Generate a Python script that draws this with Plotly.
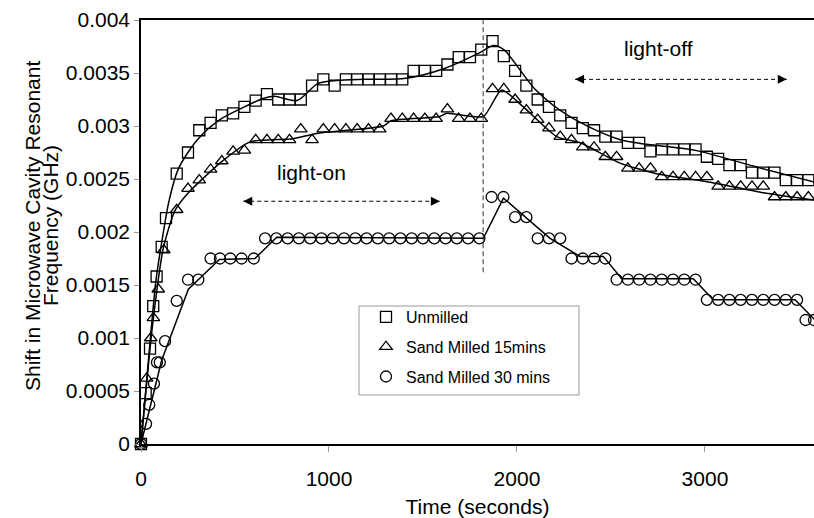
import plotly.graph_objects as go

# ---------------- data ----------------
t_unmilled = [0, 25, 48, 65, 83, 110, 133,
              190, 250, 310, 370, 430, 490, 550, 610, 670, 730, 790, 850, 910, 970,
              1030, 1090, 1150, 1210, 1270, 1330, 1390, 1450, 1510, 1570, 1630, 1690,
              1750, 1810, 1870,
              1930, 1990, 2050, 2110, 2170, 2230, 2290, 2350, 2410, 2470, 2530, 2590,
              2650, 2710, 2770, 2830, 2890, 2950, 3010, 3070, 3130, 3190, 3250, 3310,
              3370, 3430, 3490, 3550, 3585]
y_unmilled = [0, 0.00048, 0.0009, 0.0013, 0.00158, 0.00186, 0.00213,
              0.00255, 0.00275, 0.00296, 0.00303, 0.0031, 0.00312, 0.00318, 0.00324,
              0.0033, 0.00325, 0.00325, 0.00325, 0.00338, 0.00344,
              0.00338, 0.00344, 0.00344, 0.00344, 0.00344, 0.00344, 0.00344, 0.00352,
              0.00352, 0.00352, 0.00358, 0.00365, 0.00365, 0.00372, 0.0038,
              0.00366, 0.00352, 0.00338, 0.00325, 0.00318, 0.0031, 0.00303, 0.00298,
              0.00296, 0.0029, 0.0029, 0.00284, 0.00284, 0.00276, 0.00278, 0.00278,
              0.00278, 0.00278, 0.00271, 0.00269, 0.00263, 0.00263, 0.00256, 0.00256,
              0.00256, 0.00249, 0.00249, 0.00249, 0.0024]

t_15min = [0, 30, 52, 66, 92, 121,
           190, 250, 310, 370, 430, 490, 550, 610, 670, 730, 790, 850, 910, 970,
           1030, 1090, 1150, 1210, 1270, 1330, 1390, 1450, 1510, 1570, 1630, 1690,
           1750, 1810, 1870,
           1930, 1990, 2050, 2110, 2170, 2230, 2290, 2350, 2410, 2470, 2530, 2590,
           2650, 2710, 2770, 2830, 2890, 2950, 3010, 3070, 3130, 3190, 3250, 3310,
           3370, 3430, 3490, 3550]
y_15min = [0, 0.00062, 0.001, 0.00119, 0.00146, 0.00183,
           0.00221, 0.00241, 0.00249, 0.00259, 0.00267, 0.00276, 0.00277, 0.00287,
           0.00287, 0.00287, 0.00287, 0.00297, 0.00287, 0.00297,
           0.00297, 0.00297, 0.00297, 0.00297, 0.00297, 0.00307, 0.00307, 0.00307,
           0.00307, 0.00307, 0.00316, 0.00307, 0.00307, 0.00307, 0.00335,
           0.00335, 0.00325, 0.00315, 0.00306, 0.00298, 0.0029, 0.00287, 0.0028,
           0.0028, 0.00271, 0.00271, 0.0026, 0.0026, 0.0026, 0.00252, 0.00252,
           0.00252, 0.00252, 0.00252, 0.00243, 0.00243, 0.00243, 0.00243, 0.00243,
           0.00233, 0.00233, 0.00233, 0.00233]

t_30min = [0, 27, 44, 69, 85, 100, 128, 190, 250, 305,
           370, 420, 475, 535, 600,
           660, 720, 780, 840, 900, 960, 1020, 1080, 1140, 1200, 1260, 1320, 1380,
           1440, 1500, 1560, 1620, 1680, 1740, 1800,
           1865, 1928, 1990, 2050, 2110, 2170, 2230,
           2290, 2350, 2410, 2470,
           2530, 2590, 2650, 2710, 2770, 2830, 2890, 2950,
           3010, 3070, 3130, 3190, 3250, 3310, 3370, 3430, 3490,
           3535, 3580]
y_30min = [0, 0.00019, 0.00037, 0.00057, 0.00077, 0.00077, 0.00097, 0.00135, 0.00155, 0.00155,
           0.00175, 0.00175, 0.00175, 0.00175, 0.00175,
           0.00194, 0.00194, 0.00194, 0.00194, 0.00194, 0.00194, 0.00194, 0.00194,
           0.00194, 0.00194, 0.00194, 0.00194, 0.00194, 0.00194, 0.00194, 0.00194,
           0.00194, 0.00194, 0.00194, 0.00194,
           0.00233, 0.00233, 0.00214, 0.00214, 0.00194, 0.00194, 0.00194,
           0.00175, 0.00175, 0.00175, 0.00175,
           0.00155, 0.00155, 0.00155, 0.00155, 0.00155, 0.00155, 0.00155, 0.00155,
           0.00136, 0.00136, 0.00136, 0.00136, 0.00136, 0.00136, 0.00136, 0.00136, 0.00136,
           0.00117, 0.00117]

# trend lines drawn through the markers
t_fit_unmilled = [0, 40, 80, 110, 150, 200, 300, 420, 550, 650, 710, 830, 940, 1040,
                  1200, 1410, 1610, 1800, 1875, 1930, 2100, 2280, 2550, 2950, 3260, 3585]
y_fit_unmilled = [0, 0.0008, 0.00155, 0.0019, 0.0023, 0.0026, 0.00287, 0.00306, 0.00318,
                  0.00326, 0.00328, 0.00324, 0.0034, 0.00343, 0.00344, 0.00345, 0.00354,
                  0.00369, 0.00376, 0.00372, 0.00334, 0.00309, 0.00287, 0.00277, 0.00262,
                  0.00247]
t_fit_15min = [0, 60, 119, 180, 252, 420, 580, 810, 934, 1289, 1330, 1590, 1626, 1821,
               1918, 2034, 2211, 2340, 2548, 2743, 3027, 3310, 3585]
y_fit_15min = [0, 0.0011, 0.00185, 0.0022, 0.00237, 0.00265, 0.00285, 0.00288, 0.00293,
               0.003, 0.00305, 0.00309, 0.00312, 0.00309, 0.00334, 0.00318, 0.0029,
               0.00284, 0.00265, 0.00255, 0.00247, 0.00237, 0.0023]
t_fit_30min = [0, 110, 252, 417, 606, 722, 1821, 1928, 2176, 2335, 2459, 2557, 2938,
               3044, 3479, 3585]
y_fit_30min = [0, 0.00079, 0.00146, 0.00174, 0.00175, 0.00195, 0.00194, 0.00232, 0.00194,
               0.00177, 0.00177, 0.00156, 0.00156, 0.00136, 0.00136, 0.00117]

series_names = ["Unmilled", "Sand Milled 15mins", "Sand Milled 30 mins"]
x_ticks = [0, 1000, 2000, 3000]
y_ticks = [0, 0.0005, 0.001, 0.0015, 0.002, 0.0025, 0.003, 0.0035, 0.004]
y_tick_labels = ["0", "0.0005", "0.001", "0.0015", "0.002", "0.0025", "0.003", "0.0035", "0.004"]

light_switch_t = 1820
light_switch_ytop = 0.004
light_switch_ybottom = 0.00162
light_on_arrow_t = [544, 1590]
light_on_arrow_y = 0.00229
light_on_label = ("light-on", 908, 0.00256)
light_off_arrow_t = [2309, 3435]
light_off_arrow_y = 0.00344
light_off_label = ("light-off", 2752, 0.00373)

FONT = "Liberation Sans, Arial, sans-serif"

# plot-area geometry in pixels
L, R, T, B = 141, 814, 20, 444
PW, PH = R - L, B - T


def px_x(p):
    return (p - L) / PW


def px_y(p):
    return (B - p) / PH


# ---------------- figure ----------------
fig = go.Figure()

for tx, ty, shp, smooth in [(t_fit_unmilled, y_fit_unmilled, "spline", 0.8),
                            (t_fit_15min, y_fit_15min, "spline", 0.6),
                            (t_fit_30min, y_fit_30min, "linear", 0)]:
    line = dict(color="black", width=1.5, shape=shp)
    if shp == "spline":
        line["smoothing"] = smooth
    fig.add_trace(go.Scatter(x=tx, y=ty, mode="lines", line=line,
                             showlegend=False, hoverinfo="skip", cliponaxis=False))

for tx, ty, sym, name, grp in [(t_unmilled, y_unmilled, "square-open", series_names[0], "a"),
                               (t_15min, y_15min, "triangle-up-open", series_names[1], "b"),
                               (t_30min, y_30min, "circle-open", series_names[2], "c")]:
    fig.add_trace(go.Scatter(x=tx, y=ty, mode="markers", name=name, legendgroup=grp,
                             marker=dict(symbol=sym, size=11, color="black",
                                         line=dict(color="black", width=1.3)),
                             cliponaxis=False))

shapes = [
    dict(type="line", xref="x", yref="y", x0=light_switch_t, x1=light_switch_t,
         y0=light_switch_ybottom, y1=light_switch_ytop,
         line=dict(color="#333", width=1, dash="5px,3px")),
    dict(type="line", xref="x", yref="y", x0=light_on_arrow_t[0], x1=light_on_arrow_t[1],
         y0=light_on_arrow_y, y1=light_on_arrow_y,
         line=dict(color="black", width=1, dash="4px,3px")),
    dict(type="line", xref="x", yref="y", x0=light_off_arrow_t[0], x1=light_off_arrow_t[1],
         y0=light_off_arrow_y, y1=light_off_arrow_y,
         line=dict(color="black", width=1, dash="4px,3px")),
    # legend frame
    dict(type="rect", xref="paper", yref="paper", x0=px_x(359), x1=px_x(579),
         y0=px_y(395), y1=px_y(306), line=dict(color="#999", width=1),
         fillcolor="white", layer="below"),
]

annotations = []
for (t0, t1), ya in [(light_on_arrow_t, light_on_arrow_y), (light_off_arrow_t, light_off_arrow_y)]:
    for tip, off in [(t0, 9), (t1, -9)]:
        annotations.append(dict(x=tip, y=ya, xref="x", yref="y", text="", showarrow=True,
                                ax=off, ay=0, arrowhead=2, arrowsize=1.8, arrowwidth=1,
                                arrowcolor="black"))
for txt, tx, ty in [light_on_label, light_off_label]:
    annotations.append(dict(x=tx, y=ty, xref="x", yref="y", text=txt, showarrow=False,
                            font=dict(family=FONT, size=21, color="black")))

# two-line y-axis title
annotations.append(dict(x=px_x(33), y=px_y(226), xref="paper", yref="paper",
                        text="Shift in Microwave Cavity Resonant", textangle=-90, showarrow=False,
                        xanchor="center", yanchor="middle",
                        font=dict(family=FONT, size=21, color="black")))
annotations.append(dict(x=px_x(51), y=px_y(226), xref="paper", yref="paper",
                        text="Frequency (GHz)", textangle=-90, showarrow=False,
                        xanchor="center", yanchor="middle",
                        font=dict(family=FONT, size=21, color="black")))

fig.update_layout(
    width=814, height=518,
    margin=dict(l=L, r=814 - R, t=T, b=518 - B, pad=0),
    paper_bgcolor="white", plot_bgcolor="white",
    font=dict(family=FONT, size=21, color="black"),
    shapes=shapes, annotations=annotations,
    showlegend=True,
    legend=dict(x=px_x(366), y=px_y(300), xanchor="left", yanchor="top",
                bgcolor="rgba(0,0,0,0)", borderwidth=0,
                font=dict(family=FONT, size=16, color="black"),
                tracegroupgap=6, traceorder="grouped"),
    xaxis=dict(range=[0, 3580], tickvals=x_ticks, showgrid=False, zeroline=False,
               showline=True, linecolor="black", linewidth=1.5, mirror=True,
               ticks="outside", ticklen=6, tickcolor="#999", tickwidth=1,
               ticklabelstandoff=9,
               tickfont=dict(family=FONT, size=21),
               title=dict(text="Time (seconds)", font=dict(family=FONT, size=21), standoff=10)),
    yaxis=dict(range=[0, 0.004], tickvals=y_ticks, ticktext=y_tick_labels,
               showgrid=False, zeroline=False, showline=True, linecolor="black", linewidth=1.5,
               ticks="outside", ticklen=5, tickcolor="#999", tickwidth=1,
               tickfont=dict(family=FONT, size=21)),
)

fig.write_html("out.html")
